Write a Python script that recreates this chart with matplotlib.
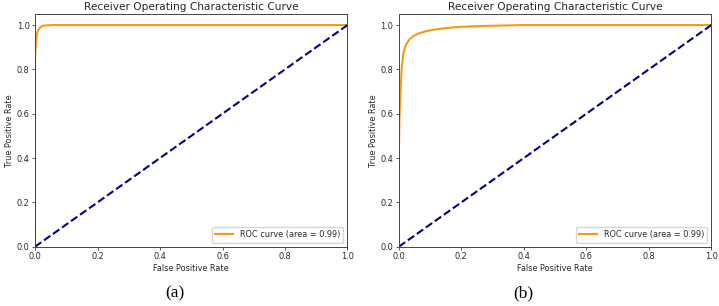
import numpy as np
import matplotlib.pyplot as plt

# --- ROC data ---
FPR_A = [0.0, 0.0, 0.002, 0.005, 0.008, 0.011, 0.016, 0.021, 0.03, 0.04, 0.06, 1.0]
TPR_A = [0.0, 0.84, 0.91, 0.947, 0.968, 0.978, 0.989, 0.995, 0.998, 0.999, 1.0, 1.0]

FPR_B = [0.0, 0.0, 0.002, 0.005, 0.009, 0.014, 0.02, 0.025, 0.035, 0.046, 0.065,
         0.089, 0.12, 0.142, 0.195, 0.25, 0.30, 0.40, 1.0]
TPR_B = [0.0, 0.40, 0.58, 0.69, 0.80, 0.87, 0.90, 0.917, 0.937, 0.95, 0.963,
         0.973, 0.981, 0.985, 0.992, 0.995, 0.997, 1.0, 1.0]

AUC_LABELS = ["ROC curve (area = 0.99)", "ROC curve (area = 0.99)"]
PANEL_LABELS = ["(a)", "(b)"]
TITLE = "Receiver Operating Characteristic Curve"

FS = 5.9
TXT = '#262626'

fig = plt.figure(figsize=(7.19, 3.06), dpi=100)
ax_a = fig.add_axes([0.0487, 0.1938, 0.4346, 0.7605])
ax_b = fig.add_axes([0.5547, 0.1938, 0.4346, 0.7605])

for ax, fpr, tpr, lab in [(ax_a, FPR_A, TPR_A, AUC_LABELS[0]),
                          (ax_b, FPR_B, TPR_B, AUC_LABELS[1])]:
    ax.plot(fpr, tpr, color='#fb9812', lw=1.5, label=lab)
    ax.plot([0, 1], [0, 1], color='navy', lw=1.5, linestyle='--')
    ax.set_xlim(0.0, 1.0)
    ax.set_ylim(0.0, 1.05)
    ax.set_title(TITLE, fontsize=7.6, pad=3, color=TXT)
    ax.set_xlabel('False Positive Rate', fontsize=FS, labelpad=2, color=TXT)
    ax.set_ylabel('True Positive Rate', fontsize=FS, labelpad=2, color=TXT)
    ax.tick_params(labelsize=FS, length=2.5, width=0.6, pad=1.5,
                   labelcolor=TXT, color='#444444')
    for s in ax.spines.values():
        s.set_linewidth(0.7)
        s.set_color('#444444')
    leg = ax.legend(loc='lower right', fontsize=FS, handlelength=2.2)
    for t in leg.get_texts():
        t.set_color(TXT)

fig.text(175 / 719, 1 - 293 / 306, PANEL_LABELS[0], ha='center', va='center',
         fontsize=12.5, family='Liberation Serif')
fig.text(523 / 719, 1 - 293 / 306, PANEL_LABELS[1], ha='center', va='center',
         fontsize=12.5, family='Liberation Serif')

fig.savefig('out.png', dpi=100)
